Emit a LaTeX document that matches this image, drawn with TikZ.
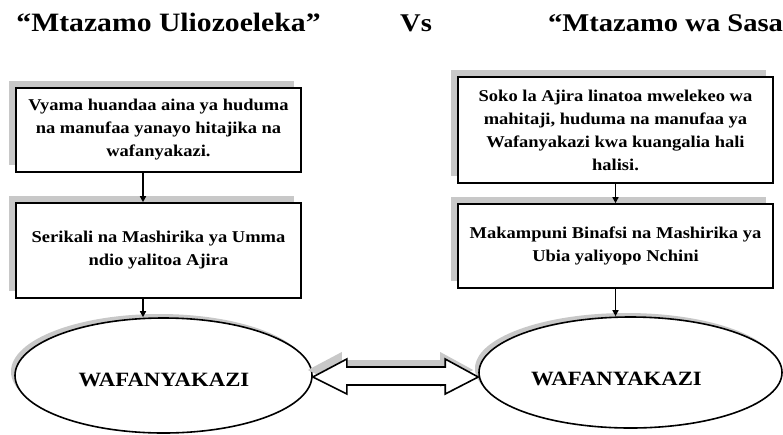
\documentclass[tikz,border=0pt]{standalone}
\usepackage{fontspec}
\setmainfont{Liberation Serif}
\newfontfamily\garfont[FakeStretch=1.12]{Liberation Serif}
\usetikzlibrary{shapes.geometric,shadows,arrows.meta,calc}
\definecolor{shadowgray}{RGB}{200,200,200}
\tikzset{
  titletext/.style={font=\garfont\bfseries\fontsize{25.5}{30}\selectfont, inner sep=0pt},
  boxtext/.style={draw=black, line width=1.6pt, fill=white, align=center,
    font=\garfont\bfseries\fontsize{16.5}{23}\selectfont, inner sep=0pt,
    general shadow={shadow xshift=-7pt, shadow yshift=7pt, fill=shadowgray}},
  oval/.style={ellipse, draw=black, line width=1.6pt, fill=white, inner sep=0pt,
    general shadow={shadow xshift=-4pt, shadow yshift=4pt, fill=shadowgray}},
  ovaltext/.style={font=\garfont\bfseries\fontsize{20.3}{23}\selectfont, inner sep=0pt},
  conn/.style={line width=1.4pt, -{Triangle[length=6pt,width=6pt]}},
  dbl/.style={draw=black, line width=1.6pt, fill=white, line join=miter,
    general shadow={shadow xshift=-5pt, shadow yshift=7pt, fill=shadowgray}}
}
\begin{document}
\begin{tikzpicture}[x=1pt,y=-1pt]
\useasboundingbox (0,0) rectangle (783,434);
% titles
\node[titletext, anchor=base, font=\garfont\bfseries\fontsize{26.5}{30}\selectfont] (t1) at (168.5,31) {“Mtazamo Uliozoeleka”};
\node[titletext, anchor=base west] (tvs) at (400,31) {Vs};
\node[titletext, anchor=base west] (t2) at (548,31) {“Mtazamo wa Sasa”};
% left column
\node[boxtext, minimum width=285pt, minimum height=84pt] (lb1) at (158.5,130)
  {Vyama huandaa aina ya huduma\\na manufaa yanayo hitajika na\\wafanyakazi.};
\node[boxtext, minimum width=285pt, minimum height=95pt] (lb2) at (158.5,250.5)
  {Serikali na Mashirika ya Umma\\ndio yalitoa Ajira};
\node[oval, minimum width=297pt, minimum height=115pt] (le) at (163.5,375.5) {};
\node[ovaltext] (lt) at (164,380) {WAFANYAKAZI};
% right column
\node[boxtext, minimum width=315pt, minimum height=106pt] (rb1) at (615.5,130)
  {Soko la Ajira linatoa mwelekeo wa\\mahitaji, huduma na manufaa ya\\Wafanyakazi kwa kuangalia hali\\halisi.};
\node[boxtext, minimum width=315pt, minimum height=84pt] (rb2) at (615.5,246)
  {Makampuni Binafsi na Mashirika ya\\Ubia yaliyopo Nchini};
\node[oval, minimum width=303pt, minimum height=111pt] (re) at (630.5,372.5) {};
\node[ovaltext] (rt) at (616.5,379) {WAFANYAKAZI};
% connectors
\coordinate (lx) at (143,0);
\draw[conn] (lb1.south -| lx) -- (lb2.north -| lx);
\draw[conn] (lb2.south -| lx) -- (le.north -| lx);
\draw[conn] (rb1.south) -- (rb2.north);
\draw[conn] (rb2.south) -- (re.north -| rb2.south);
% double arrow
\coordinate (tl) at ($(le.east)+(0,1.5)$);
\coordinate (tr) at ($(re.west)+(0,4.5)$);
\path[dbl] (tl) -- ($(tl)+(34,-18)$) -- ($(tl)+(34,-10)$) -- ($(tr)+(-33,-10)$)
  -- ($(tr)+(-33,-18)$) -- (tr) -- ($(tr)+(-33,17)$) -- ($(tr)+(-33,8)$)
  -- ($(tl)+(34,8)$) -- ($(tl)+(34,17)$) -- cycle;
\end{tikzpicture}
\end{document}
